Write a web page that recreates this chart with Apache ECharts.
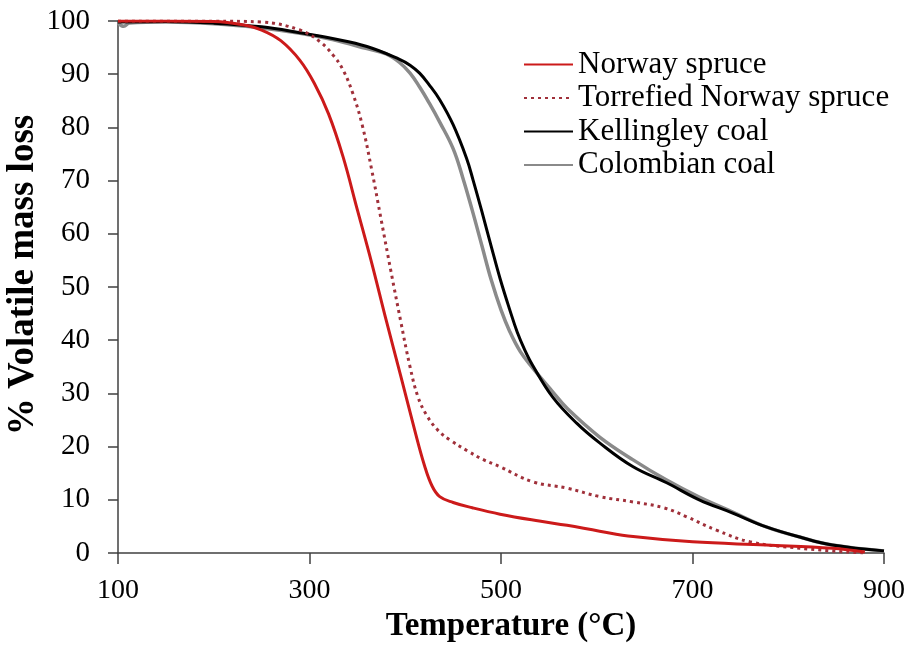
<!DOCTYPE html>
<html>
<head>
<meta charset="utf-8">
<script src="https://cdn.jsdelivr.net/npm/echarts@6/dist/echarts.min.js"></script>
<style>
html,body{margin:0;padding:0;background:#fff;}
#chart{width:909px;height:646px;}
</style>
</head>
<body>
<div id="chart"></div>
<script>
// Tick labels
const xTicks = [100, 300, 500, 700, 900];

// Series names
const seriesNames = ['Norway spruce', 'Torrefied Norway spruce', 'Kellingley coal', 'Colombian coal'];

// Norway spruce
const nsT = [100,150,200,230,250,270,290,305,320,335,350,365,380,395,410,420,428,436,450,470,499,540,569,603,638,700,777,846,880];
const nsV = [100,100,99.9,99.3,98.3,96.3,92.6,88.3,82.5,74.5,64.5,54.5,43.8,33.5,23.0,16.5,12.6,10.6,9.5,8.5,7.3,6.0,5.2,4.1,3.1,2.1,1.5,0.9,0.2];

// Torrefied Norway spruce
const tnT = [100,200,250,290,311,325,335,345,355,365,375,385,395,405,413,422,434,447,465,481,499,533,569,603,638,670,694,725,760,812,878];
const tnV = [100,100,99.8,98.3,96.1,93.5,90.8,86.5,80.5,72.0,62.5,53.0,43.8,35.0,29.5,26.0,23.1,21.2,19.2,17.6,16.2,13.4,12.2,10.6,9.6,8.5,6.8,4.3,2.1,0.9,0];

// Kellingley coal
const kcT = [100,150,200,250,290,324,360,394,405,415,425,436,450,464,471,480,490,499,509,517,525,533,554,579,603,638,673,707,742,777,812,846,900];
const kcV = [99.8,99.9,99.6,98.9,97.8,96.7,95.2,92.8,91.7,90.2,88.0,85.2,80.5,74.2,70.0,64.2,57.5,51.6,45.8,41.5,38.1,35.3,29.3,24.4,20.7,16.2,13.2,10.0,7.5,4.9,3.0,1.5,0.4];

// Colombian coal
const ccT = [100,106,112,150,200,250,290,324,360,380,394,405,415,425,436,450,460,470,480,490,500,509,520,533,554,569,603,638,673,707,742,777,812,846,900];
const ccV = [99.6,99.0,99.6,99.8,99.5,98.7,97.7,96.5,94.8,93.8,92.2,90.2,87.6,84.6,81.0,76.0,70.6,64.4,57.8,51.2,45.7,41.7,37.9,34.8,30.3,27.2,21.8,17.5,13.7,10.5,7.7,4.9,3.0,1.5,0.4];

function zip(t, v) { return t.map((x, i) => [x, v[i]]); }

const serif = 'Liberation Serif, Times New Roman, serif';
const chart = echarts.init(document.getElementById('chart'), null, {renderer: 'canvas'});

chart.setOption({
  backgroundColor: '#ffffff',
  animation: false,
  grid: {left: 118, right: 25, top: 21, bottom: 93, outerBoundsMode: 'none', containLabel: false},
  legend: {
    orient: 'vertical',
    left: 523,
    top: 49,
    padding: 0,
    itemWidth: 49,
    itemHeight: 14,
    itemGap: 2.5,
    itemStyle: {opacity: 0},
    textStyle: {fontFamily: serif, fontSize: 31, color: '#000', lineHeight: 31},
    data: seriesNames
  },
  xAxis: {
    type: 'value',
    min: 100,
    max: 900,
    name: 'Temperature (°C)',
    nameLocation: 'middle',
    nameGap: 57,
    nameMoveOverlap: false,
    nameTextStyle: {fontFamily: serif, fontSize: 33, fontWeight: 'bold', color: '#000', padding: [0, 0, 0, 20]},
    axisLine: {show: true, lineStyle: {color: '#404040', width: 1.5}},
    axisTick: {show: true, length: 11, customValues: xTicks, lineStyle: {color: '#404040', width: 1.5}},
    axisLabel: {customValues: xTicks, fontFamily: serif, fontSize: 28, color: '#000', margin: 24},
    splitLine: {show: false}
  },
  yAxis: {
    type: 'value',
    min: 0,
    max: 100,
    interval: 10,
    name: '% Volatile mass loss',
    nameLocation: 'middle',
    nameGap: 76,
    nameRotate: 90,
    nameMoveOverlap: false,
    nameTextStyle: {fontFamily: serif, fontSize: 37, fontWeight: 'bold', color: '#000', padding: [0, 0, 0, 24]},
    axisLine: {show: true, lineStyle: {color: '#404040', width: 1.5}},
    axisTick: {show: true, length: 10, lineStyle: {color: '#404040', width: 1.5}},
    axisLabel: {fontFamily: serif, fontSize: 29, color: '#000', margin: 28},
    splitLine: {show: false}
  },
  series: [
    {name: seriesNames[0], type: 'line', data: zip(nsT, nsV), symbol: 'none', smooth: 0.4,
     lineStyle: {color: '#cc1a1a', width: 3}, itemStyle: {color: '#cc1a1a'}, z: 4},
    {name: seriesNames[1], type: 'line', data: zip(tnT, tnV), symbol: 'none', smooth: 0.4,
     lineStyle: {color: '#a0303a', width: 3, type: [3, 4]}, itemStyle: {color: '#a0303a'}, z: 3},
    {name: seriesNames[2], type: 'line', data: zip(kcT, kcV), symbol: 'none', smooth: 0.4,
     lineStyle: {color: '#000000', width: 3}, itemStyle: {color: '#000000'}, z: 2},
    {name: seriesNames[3], type: 'line', data: zip(ccT, ccV), symbol: 'none', smooth: 0.4,
     lineStyle: {color: '#8a8a8a', width: 3.5}, itemStyle: {color: '#8a8a8a'}, z: 1}
  ]
});
</script>
</body>
</html>
